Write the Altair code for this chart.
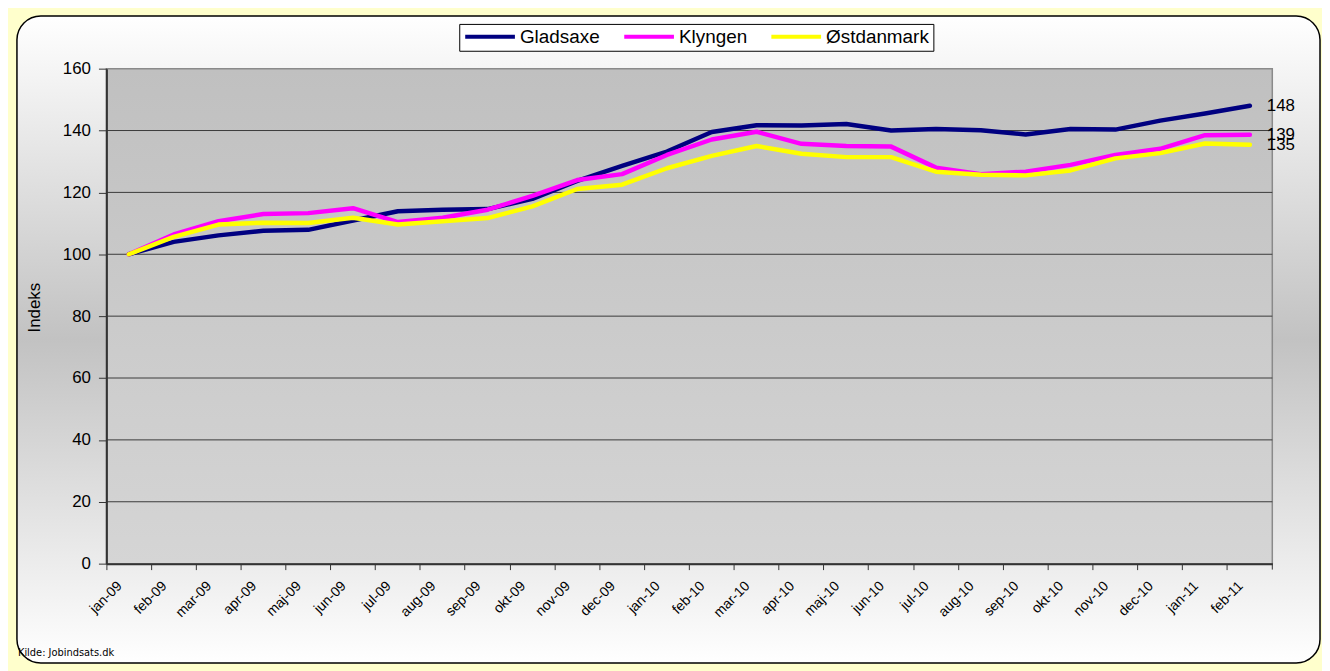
import altair as alt
import pandas as pd

months = ["jan-09", "feb-09", "mar-09", "apr-09", "maj-09", "jun-09", "jul-09", "aug-09",
          "sep-09", "okt-09", "nov-09", "dec-09", "jan-10", "feb-10", "mar-10", "apr-10",
          "maj-10", "jun-10", "jul-10", "aug-10", "sep-10", "okt-10", "nov-10", "dec-10",
          "jan-11", "feb-11"]
gladsaxe = [100, 104, 106.1, 107.6, 107.9, 110.9, 113.9, 114.4, 114.6, 117.9, 123.7, 128.6,
            133.2, 139.5, 141.7, 141.6, 142.1, 140, 140.5, 140.1, 138.7, 140.5, 140.3, 143.2,
            145.5, 148]
klyngen = [100, 106.4, 110.7, 113, 113.3, 114.9, 110.4, 111.8, 114.4, 118.9, 124, 125.9,
           132.1, 137.1, 139.6, 135.7, 135, 134.8, 128, 125.9, 126.7, 128.9, 132.1, 134.1,
           138.5, 138.6]
ostdanmark = [100, 105.6, 109.6, 110.2, 110.1, 111.8, 109.6, 110.7, 111.7, 115.5, 121.1, 122.5,
              127.8, 131.8, 135, 132.5, 131.4, 131.4, 126.7, 125.7, 125.5, 127.1, 131, 132.7,
              135.8, 135.4]
series_names = ["Gladsaxe", "Klyngen", "Østdanmark"]
series_colors = ["#000080", "#FF00FF", "#FFFF00"]
grid_values = [20, 40, 60, 80, 100, 120, 140]
y_ticks = [0, 20, 40, 60, 80, 100, 120, 140, 160]

rows = []
for name, vals in zip(series_names, [gladsaxe, klyngen, ostdanmark]):
    for m, v in zip(months, vals):
        rows.append({"month": m, "series": name, "value": v})
df = pd.DataFrame(rows)
last = df[df["month"] == months[-1]].copy()
last["label"] = last["value"].round().astype(int).astype(str)

W, H = 1173, 498
FONT = "Liberation Sans"
NARROW = "Liberation Sans Narrow, DejaVu Sans Condensed, Liberation Sans, sans-serif"
one = pd.DataFrame({"a": [0]})

xscale = alt.Scale(type="band", domain=months, paddingInner=0, paddingOuter=0)
yscale = alt.Scale(domain=[0, 160], nice=False)

chart_bg = alt.Chart(one).mark_rect(
    cornerRadius=24, stroke="black", strokeWidth=1.5,
    fill=alt.LinearGradient(gradient="linear", x1=0, x2=0, y1=0, y2=1, stops=[
        alt.GradientStop(color="#FFFFFF", offset=0),
        alt.GradientStop(color="#C2C2C2", offset=0.5),
        alt.GradientStop(color="#FFFFFF", offset=1)])
).encode(x=alt.value(-90), x2=alt.value(1221), y=alt.value(-53), y2=alt.value(598))

plot_bg = alt.Chart(one).mark_rect(
    stroke="#8a8a8a", strokeWidth=1.5,
    fill=alt.LinearGradient(gradient="linear", x1=0, x2=0, y1=0, y2=1, stops=[
        alt.GradientStop(color="#C0C0C0", offset=0),
        alt.GradientStop(color="#D5D5D5", offset=1)])
).encode(x=alt.value(0), x2=alt.value(W), y=alt.value(0), y2=alt.value(H))

grid = alt.Chart(pd.DataFrame({"g": grid_values})).mark_rule(
    color="#3a3a3a", strokeWidth=1
).encode(y=alt.Y("g:Q", scale=yscale), x=alt.value(0), x2=alt.value(W))

lines = alt.Chart(df).mark_line(strokeWidth=4.5, strokeJoin="round", strokeCap="round").encode(
    x=alt.X("month:N", scale=xscale, sort=months,
            axis=alt.Axis(title=None, bandPosition=0, labelAngle=-45, labelAlign="right",
                          labelBaseline="top", labelOffset=-14, labelPadding=9,
                          labelFont=FONT, labelFontSize=14, labelColor="black",
                          tickSize=6, tickColor="#333333", domainColor="#333333",
                          domainWidth=2, grid=False, zindex=1)),
    y=alt.Y("value:Q", scale=yscale,
            axis=alt.Axis(title="Indeks", values=y_ticks, grid=False, tickSize=8,
                          tickColor="#333333", domainColor="#333333", domainWidth=2,
                          labelFont=FONT, labelFontSize=17, labelColor="black",
                          labelPadding=8, titleFont=FONT, titleFontSize=17,
                          titleFontWeight="normal", titleColor="black",
                          titleX=-72, titleY=240, titleAlign="center",
                          titleBaseline="middle", zindex=1)),
    color=alt.Color("series:N", scale=alt.Scale(domain=series_names, range=series_colors),
                    legend=alt.Legend(orient="none", legendX=355, legendY=-45,
                                      direction="horizontal", title=None,
                                      symbolType="stroke", symbolSize=2500,
                                      symbolStrokeWidth=4, labelFont=FONT,
                                      labelFontSize=19, labelColor="black",
                                      labelOffset=3, columnPadding=22, clipHeight=18,
                                      strokeColor="black", fillColor="white",
                                      padding=4)),
)

end_tick = alt.Chart(one).mark_rule(color="#333333", strokeWidth=1).encode(
    x=alt.value(W), y=alt.value(H), y2=alt.value(H + 6))

end_labels = alt.Chart(last).mark_text(
    align="left", baseline="middle", dx=17, font=FONT, fontSize=17, color="black"
).encode(x=alt.X("month:N", scale=xscale, sort=months),
         y=alt.Y("value:Q", scale=yscale), text="label:N")

kilde = alt.Chart(one).mark_text(
    align="left", baseline="middle", font=NARROW, fontSize=11,
    color="black", text="Kilde: Jobindsats.dk"
).encode(x=alt.value(-89), y=alt.value(588))

chart = alt.layer(chart_bg, plot_bg, grid, lines, end_tick, end_labels, kilde).properties(
    width=W, height=H, background="#FFFFCC",
    autosize=alt.AutoSizeParams(type="none"),
    padding={"left": 99, "top": 59, "right": 50, "bottom": 106}
).configure_view(stroke=None)

chart.save("out.html", embed_options={"renderer": "svg", "actions": False})
